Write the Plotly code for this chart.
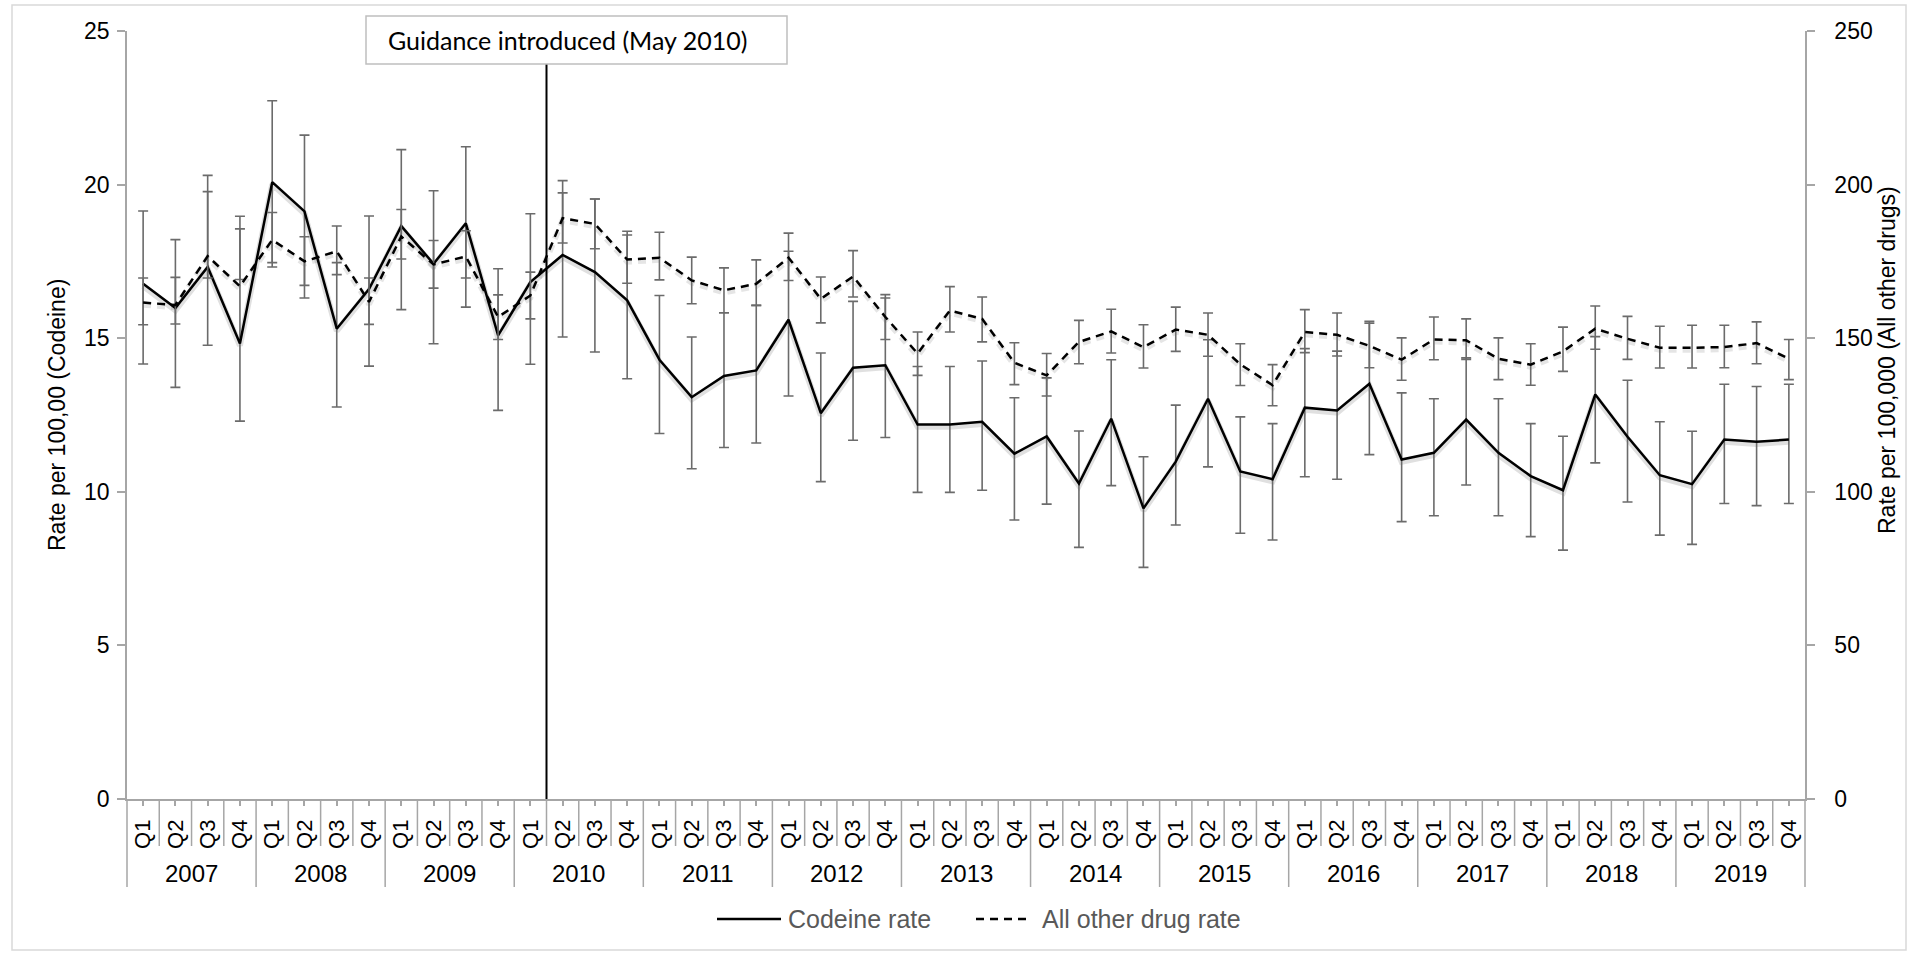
import plotly.graph_objects as go

# ---- data -------------------------------------------------------------
years = [str(y) for y in range(2007, 2020)]
quarters = ["Q1", "Q2", "Q3", "Q4"]

# Codeine rate per 100,000 (left axis) with 95% interval bounds
codeine_rate = [16.77, 15.98, 17.32, 14.83, 20.08, 19.13, 15.31, 16.60, 18.65, 17.42,
                18.74, 15.09, 16.83, 17.71, 17.15, 16.23, 14.30, 13.08, 13.77, 13.95,
                15.60, 12.56, 14.04, 14.12, 12.19, 12.19, 12.28, 11.24, 11.80, 10.27,
                12.38, 9.46, 10.98, 13.03, 10.66, 10.41, 12.74, 12.65, 13.52, 11.05,
                11.27, 12.35, 11.27, 10.51, 10.05, 13.17, 11.79, 10.54, 10.25, 11.70,
                11.63, 11.70]
codeine_upper = [19.14, 18.21, 19.77, 18.97, 22.73, 21.61, 17.46, 18.98, 21.14, 19.80,
                 21.23, 17.26, 19.05, 20.13, 19.53, 18.48, 16.39, 15.04, 15.83, 16.07,
                 17.83, 14.52, 16.20, 16.31, 14.08, 14.08, 14.26, 13.06, 13.71, 11.98,
                 14.30, 11.14, 12.82, 14.95, 12.44, 12.22, 14.66, 14.58, 15.49, 13.22,
                 13.03, 14.36, 13.03, 12.22, 11.81, 15.05, 13.63, 12.28, 11.97, 13.50,
                 13.43, 13.50]
codeine_lower = [14.16, 13.40, 14.77, 12.30, 17.32, 16.31, 12.76, 14.09, 15.93, 14.82,
                 16.01, 12.65, 14.15, 15.04, 14.55, 13.68, 11.90, 10.75, 11.44, 11.59,
                 13.12, 10.33, 11.68, 11.77, 9.98, 9.98, 10.05, 9.08, 9.60, 8.19,
                 10.20, 7.54, 8.92, 10.81, 8.65, 8.43, 10.49, 10.41, 11.21, 9.03,
                 9.22, 10.22, 9.22, 8.54, 8.10, 10.94, 9.67, 8.59, 8.29, 9.62,
                 9.55, 9.62]

# All other drugs rate per 100,000 (right axis) with interval bounds
other_rate = [161.6, 160.8, 176.7, 166.9, 182.0, 175.0, 178.3, 161.8, 183.1, 174.0,
              176.6, 156.9, 163.9, 189.1, 187.2, 175.6, 176.2, 168.8, 165.6, 167.7,
              176.2, 162.8, 170.1, 156.9, 145.0, 159.0, 156.3, 142.0, 137.9, 148.8,
              152.2, 147.1, 152.8, 151.1, 141.5, 134.7, 152.0, 151.1, 147.5, 143.0,
              149.6, 149.3, 143.3, 141.4, 145.7, 153.1, 149.8, 146.9, 146.9, 147.1,
              148.4, 143.3]
other_upper = [169.6, 169.8, 203.0, 185.6, 190.9, 183.0, 186.5, 169.6, 191.9, 181.8,
               185.0, 164.1, 171.5, 197.3, 195.3, 183.6, 184.5, 176.4, 172.9, 175.5,
               184.2, 169.9, 178.5, 164.2, 152.0, 166.8, 163.4, 148.5, 145.0, 155.8,
               159.4, 154.4, 160.1, 158.2, 148.2, 141.4, 159.3, 158.2, 155.5, 150.1,
               156.9, 156.3, 150.1, 148.2, 153.6, 160.5, 157.1, 153.9, 154.2, 154.2,
               155.3, 149.6]
other_lower = [154.4, 154.6, 169.6, 169.1, 174.6, 167.2, 170.7, 154.5, 175.8, 166.3,
               169.6, 149.6, 156.3, 181.0, 179.1, 167.9, 169.0, 161.2, 158.3, 160.7,
               168.8, 155.0, 163.4, 149.6, 137.9, 152.0, 148.8, 134.9, 131.2, 141.7,
               145.2, 140.3, 145.7, 144.1, 134.6, 128.0, 145.3, 144.2, 140.4, 136.3,
               143.0, 143.1, 136.5, 134.7, 139.2, 146.4, 143.1, 140.3, 140.3, 140.4,
               141.7, 136.5]

GUIDANCE_POS = 12.5          # boundary between 2010 Q1 and 2010 Q2
GUIDANCE_TEXT = "Guidance introduced (May 2010)"

# ---- geometry ---------------------------------------------------------
W, H = 1913, 954
ML, MR, MT, MB = 127, 108, 31, 155
PW, PH = W - ML - MR, H - MT - MB

def px(xp):
    return (xp - ML) / PW

def py(yp):
    return (H - MB - yp) / PH

FONT = "Liberation Sans, Arial, sans-serif"
AXIS_GREY = "#a6a6a6"
BAR_GREY = "#6b6b6b"

n = len(codeine_rate)
x = list(range(n))
q_labels = [quarters[i % 4] for i in range(n)]

fig = go.Figure()

# soft drop shadows under both lines
fig.add_trace(go.Scatter(x=x, y=[v - 0.07 for v in codeine_rate], mode="lines",
                         line=dict(color="rgba(0,0,0,0.12)", width=6),
                         hoverinfo="skip", showlegend=False))
fig.add_trace(go.Scatter(x=x, y=[v - 0.7 for v in other_rate], mode="lines", yaxis="y2",
                         line=dict(color="rgba(0,0,0,0.10)", width=6, dash="8px,6px"),
                         hoverinfo="skip", showlegend=False))

fig.add_trace(go.Scatter(
    x=x, y=codeine_rate, mode="lines", name="Codeine rate",
    line=dict(color="black", width=2.5),
    error_y=dict(type="data", symmetric=False,
                 array=[u - v for u, v in zip(codeine_upper, codeine_rate)],
                 arrayminus=[v - l for v, l in zip(codeine_rate, codeine_lower)],
                 color=BAR_GREY, thickness=1.6, width=5),
    showlegend=False))

fig.add_trace(go.Scatter(
    x=x, y=other_rate, mode="lines", name="All other drug rate", yaxis="y2",
    line=dict(color="black", width=2.5, dash="8px,6px"),
    error_y=dict(type="data", symmetric=False,
                 array=[u - v for u, v in zip(other_upper, other_rate)],
                 arrayminus=[v - l for v, l in zip(other_rate, other_lower)],
                 color=BAR_GREY, thickness=1.6, width=5),
    showlegend=False))

shapes = []
annotations = []

# outer chart border
shapes.append(dict(type="rect", xref="paper", yref="paper",
                   x0=px(12), x1=px(1906), y0=py(950), y1=py(5),
                   line=dict(color="#d9d9d9", width=1.5), layer="below"))

# category separators below the x axis (short for quarters, long for years)
for k in range(n + 1):
    bottom = 887 if k % 4 == 0 else 846
    shapes.append(dict(type="line", xref="x domain", yref="paper",
                       x0=k / n, x1=k / n, y0=0, y1=py(bottom),
                       line=dict(color=AXIS_GREY, width=1.5)))

# year labels
for j, yr in enumerate(years):
    annotations.append(dict(xref="x", yref="paper", x=4 * j + 1.5, y=py(873),
                            text=yr, showarrow=False, xanchor="center", yanchor="middle",
                            font=dict(family=FONT, size=24, color="black")))

# guidance marker and its label box
shapes.append(dict(type="line", xref="x", yref="paper",
                   x0=GUIDANCE_POS, x1=GUIDANCE_POS, y0=0, y1=py(64),
                   line=dict(color="black", width=2)))
shapes.append(dict(type="rect", xref="paper", yref="paper",
                   x0=px(366), x1=px(787), y0=py(64), y1=py(16),
                   fillcolor="white", line=dict(color="#bfbfbf", width=1.5)))
annotations.append(dict(xref="paper", yref="paper", x=px(567), y=py(40),
                        text=GUIDANCE_TEXT, showarrow=False,
                        xanchor="center", yanchor="middle",
                        font=dict(family="Lato, Open Sans, sans-serif", size=25, color="black")))

# axis titles
annotations.append(dict(xref="paper", yref="paper", x=px(57), y=py(415),
                        text="Rate per 100,00 (Codeine)", textangle=-90, showarrow=False,
                        xanchor="center", yanchor="middle",
                        font=dict(family=FONT, size=23, color="black")))
annotations.append(dict(xref="paper", yref="paper", x=px(1887), y=py(360),
                        text="Rate per 100,000 (All other drugs)", textangle=-90,
                        showarrow=False, xanchor="center", yanchor="middle",
                        font=dict(family=FONT, size=23, color="black")))

# legend
LEG_Y = 919
shapes.append(dict(type="line", xref="paper", yref="paper",
                   x0=px(717), x1=px(781), y0=py(LEG_Y), y1=py(LEG_Y),
                   line=dict(color="black", width=2.5)))
annotations.append(dict(xref="paper", yref="paper", x=px(786), y=py(LEG_Y),
                        text="Codeine rate", showarrow=False, xanchor="left", yanchor="middle",
                        font=dict(family=FONT, size=25, color="#595959")))
shapes.append(dict(type="line", xref="paper", yref="paper",
                   x0=px(976), x1=px(1030), y0=py(LEG_Y), y1=py(LEG_Y),
                   line=dict(color="black", width=2.5, dash="8px,6px")))
annotations.append(dict(xref="paper", yref="paper", x=px(1040), y=py(LEG_Y),
                        text="All other drug rate", showarrow=False, xanchor="left",
                        yanchor="middle", font=dict(family=FONT, size=25, color="#595959")))

fig.update_layout(
    width=W, height=H,
    margin=dict(l=ML, r=MR, t=MT, b=MB, pad=0),
    paper_bgcolor="white", plot_bgcolor="white",
    font=dict(family=FONT, size=22, color="black"),
    showlegend=False,
    xaxis=dict(range=[-0.5, n - 0.5], tickmode="array", tickvals=x, ticktext=q_labels,
               tickangle=-90, ticks="outside", ticklen=5, tickcolor=AXIS_GREY, tickwidth=1.5,
               showline=True, linecolor=AXIS_GREY, linewidth=1.5, showgrid=False,
               zeroline=False, tickfont=dict(family=FONT, size=22, color="black"),
               ticklabelstandoff=5),
    yaxis=dict(range=[0, 25], tickmode="linear", tick0=0, dtick=5,
               ticks="outside", ticklen=8, tickcolor=AXIS_GREY, tickwidth=1.5,
               showline=True, linecolor=AXIS_GREY, linewidth=1.5, showgrid=False,
               zeroline=False, tickfont=dict(family=FONT, size=23, color="black"),
               ticklabelstandoff=3),
    yaxis2=dict(range=[0, 250], tickmode="linear", tick0=0, dtick=50,
                overlaying="y", side="right",
                ticks="outside", ticklen=8, tickcolor=AXIS_GREY, tickwidth=1.5,
                showline=True, linecolor=AXIS_GREY, linewidth=1.5, showgrid=False,
                zeroline=False, tickfont=dict(family=FONT, size=23, color="black"),
                ticklabelstandoff=15),
    shapes=shapes, annotations=annotations,
)

fig.write_html("out.html")
